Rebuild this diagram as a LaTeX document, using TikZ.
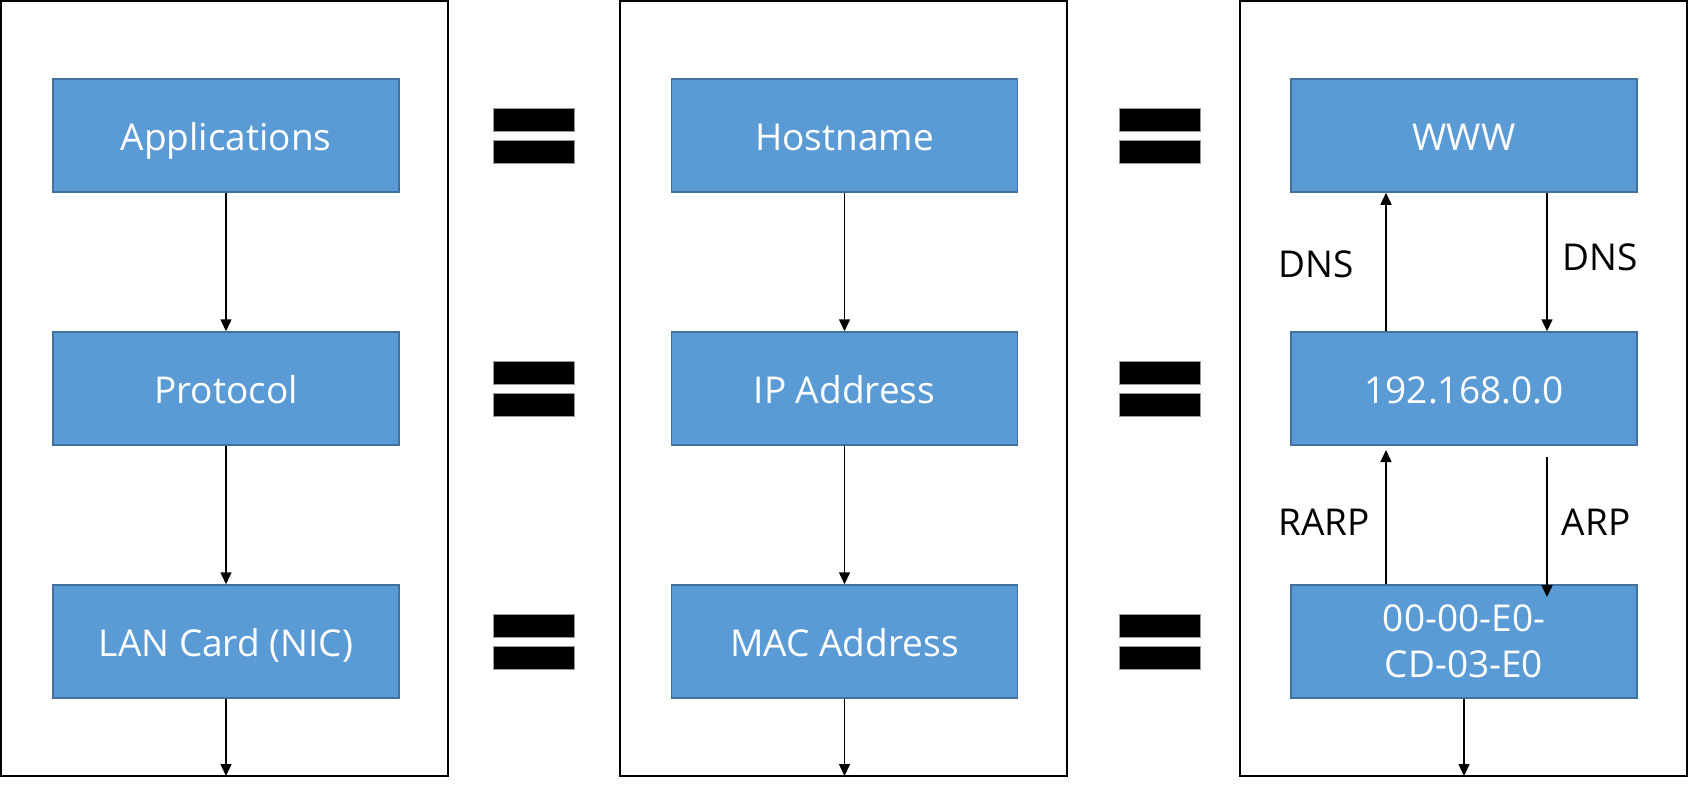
\documentclass[tikz,border=0pt]{standalone}
\usepackage{fontspec}
\setmainfont{Open Sans}
\usetikzlibrary{arrows.meta}
\definecolor{boxfill}{HTML}{5B9BD5}
\definecolor{boxline}{HTML}{41719C}
\tikzset{
  panel/.style={draw=black, line width=2pt, fill=white},
  basebox/.style={draw=boxline, line width=1.5pt, fill=boxfill, text=white,
    minimum width=346pt, minimum height=113pt, inner sep=0pt, align=center,
    font=\fontsize{37}{46}\selectfont},
  layerbox/.style={basebox, text height=30pt, text depth=1pt},
  arr/.style={draw=black, line width=1.5pt, -{Triangle[length=12pt,width=11pt]}},
  lbl/.style={text=black, font=\fontsize{37}{44}\selectfont, inner sep=0pt},
  eqbar/.style={fill=black, draw=black!40, line width=0.5pt, minimum width=81pt, minimum height=23pt, inner sep=0pt},
}
\begin{document}
\begin{tikzpicture}[x=1pt, y=-1pt]
\useasboundingbox (0,0) rectangle (1689,790);
% panels
\draw[panel] (1,1) rectangle (448,776);
\draw[panel] (620,1) rectangle (1067,776);
\draw[panel] (1240,1) rectangle (1687,776);
\coordinate (b1) at (226,776);
\coordinate (b2) at (844.5,776);
\coordinate (b3) at (1464,776);
% column 1
\node[layerbox] (app) at (226,135.5) {Applications};
\node[layerbox] (proto) at (226,388.5) {Protocol};
\node[layerbox] (lan) at (226,641.5) {LAN Card (NIC)};
% column 2
\node[layerbox] (host) at (844.5,135.5) {Hostname};
\node[layerbox] (ipa) at (844.5,388.5) {IP Address};
\node[layerbox] (mac) at (844.5,641.5) {MAC Address};
% column 3
\node[layerbox] (www) at (1464,135.5) {WWW};
\node[layerbox] (ipn) at (1464,388.5) {192.168.0.0};
\node[basebox] (macn) at (1464,641.5) {00-00-E0-\\CD-03-E0};
% equals signs
\foreach \x/\n in {533.5/a,1160/b}{
  \foreach \y/\m in {135.5/1,388.5/2,641.5/3}{
    \node[eqbar] (eq\n\m u) at (\x,\y-16) {};
    \node[eqbar] (eq\n\m d) at (\x,\y+16) {};
  }
}
% arrows column 1
\draw[arr] (app.south) -- (proto.north);
\draw[arr] (proto.south) -- (lan.north);
\draw[arr] (lan.south) -- (b1);
% arrows column 2
\draw[arr] (host.south) -- (ipa.north);
\draw[arr] (ipa.south) -- (mac.north);
\draw[arr] (mac.south) -- (b2);
% arrows column 3
\coordinate (xl) at (1386,0);
\coordinate (xr) at (1547,0);
\coordinate (rarpend) at (1386,450);
\coordinate (arpstart) at (1547,457);
\coordinate (arpend) at (1547,597);
\draw[arr] (ipn.north -| xl) -- (www.south -| xl);
\draw[arr] (www.south -| xr) -- (ipn.north -| xr);
\draw[arr] (macn.north -| xl) -- (rarpend);
\draw[arr] (arpstart) -- (arpend);
\draw[arr] (macn.south) -- (b3);
% labels
\node[lbl] (dns1) at (1316,264) {DNS};
\node[lbl] (dns2) at (1600,257) {DNS};
\node[lbl] (rarp) at (1324,522) {RARP};
\node[lbl] (arp) at (1596,522) {ARP};
\end{tikzpicture}
\end{document}
